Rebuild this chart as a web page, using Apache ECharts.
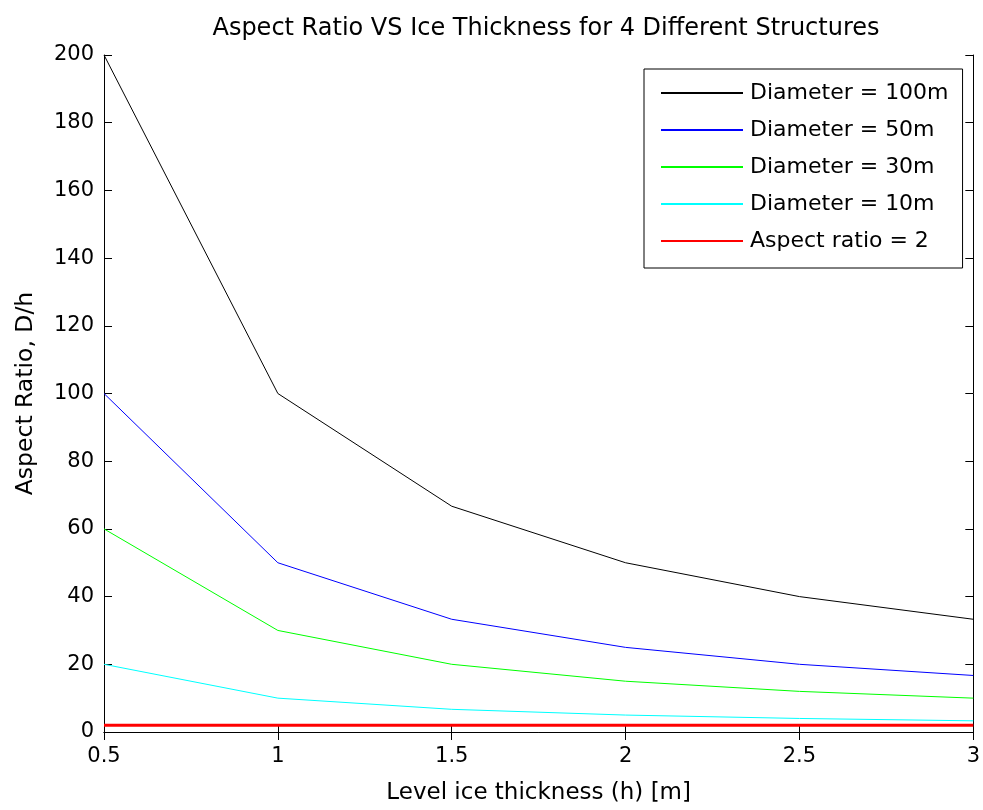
<!DOCTYPE html>
<html>
<head>
<meta charset="utf-8">
<script src="https://cdn.jsdelivr.net/npm/echarts@6/dist/echarts.min.js"></script>
<style>
  html, body { margin: 0; padding: 0; background: #fff; }
  #chart { width: 983px; height: 810px; }
</style>
</head>
<body>
<div id="chart"></div>
<script>
// ice thickness h [m]
var thickness = [0.5, 1, 1.5, 2, 2.5, 3];
// aspect ratio D/h
var d100 = [200, 100, 66.7, 50, 40, 33.3];
var d50 = [100, 50, 33.3, 25, 20, 16.7];
var d30 = [60, 30, 20, 15, 12, 10];
var d10 = [20, 10, 6.7, 5, 4, 3.3];
var ratio2 = [2, 2, 2, 2, 2, 2];

var names = ["Diameter = 100m", "Diameter = 50m", "Diameter = 30m", "Diameter = 10m", "Aspect ratio = 2"];
var colors = ["#000000", "#0000ff", "#00ff00", "#00ffff", "#ff0000"];
var widths = [1, 1, 1, 1, 3];
var values = [d100, d50, d30, d10, ratio2];

var FONT = "DejaVu Sans";
var chart = echarts.init(document.getElementById("chart"));

function pairs(ys) {
    return thickness.map(function (x, i) { return [x, ys[i]]; });
}

var series = values.map(function (ys, i) {
    return {
        name: names[i],
        type: "line",
        data: pairs(ys),
        symbol: "none",
        animation: false,
        lineStyle: { color: colors[i], width: widths[i] },
        itemStyle: { color: colors[i] }
    };
});

var tickStyle = { show: true, inside: true, length: 8, lineStyle: { color: "#000", width: 1 } };
var lineStyle = { show: true, lineStyle: { color: "#000", width: 1 } };

var option = {
    backgroundColor: "#fff",
    title: {
        text: "Aspect Ratio VS Ice Thickness for 4 Different Structures",
        left: 541,
        top: 12,
        textAlign: "center",
        textStyle: { fontFamily: FONT, fontSize: 24, fontWeight: "normal", color: "#000" }
    },
    legend: {
        orient: "vertical",
        left: 644,
        top: 69,
        padding: [13, 14, 16, 16],
        itemWidth: 82,
        itemHeight: 14,
        itemGap: 15,
        borderColor: "#000",
        borderWidth: 1,
        backgroundColor: "#fff",
        itemStyle: { opacity: 0 },
        textStyle: { fontFamily: FONT, fontSize: 22, color: "#000", padding: [0, 0, 0, 2] },
        data: names
    },
    grid: { left: 104, right: 7, top: 55, bottom: 71, containLabel: false },
    xAxis: [{
        type: "value",
        min: 0.5,
        max: 3,
        interval: 0.5,
        name: "Level ice thickness (h) [m]",
        nameLocation: "middle",
        nameGap: 50,
        nameTextStyle: { fontFamily: FONT, fontSize: 23, color: "#000" },
        axisLine: lineStyle,
        axisTick: tickStyle,
        splitLine: { show: false },
        axisLabel: { fontFamily: FONT, fontSize: 21, color: "#000", margin: 14 }
    }, {
        type: "value",
        position: "top",
        min: 0.5,
        max: 3,
        interval: 0.5,
        axisLine: lineStyle,
        axisTick: tickStyle,
        splitLine: { show: false },
        axisLabel: { show: false }
    }],
    yAxis: [{
        type: "value",
        min: 0,
        max: 200,
        interval: 20,
        name: "Aspect Ratio, D/h",
        nameLocation: "middle",
        nameGap: 66,
        nameTextStyle: { fontFamily: FONT, fontSize: 23.5, color: "#000" },
        axisLine: lineStyle,
        axisTick: tickStyle,
        splitLine: { show: false },
        axisLabel: { fontFamily: FONT, fontSize: 21, color: "#000", margin: 10 }
    }, {
        type: "value",
        position: "right",
        min: 0,
        max: 200,
        interval: 20,
        axisLine: lineStyle,
        axisTick: tickStyle,
        splitLine: { show: false },
        axisLabel: { show: false }
    }],
    series: series
};

chart.setOption(option);
</script>
</body>
</html>
